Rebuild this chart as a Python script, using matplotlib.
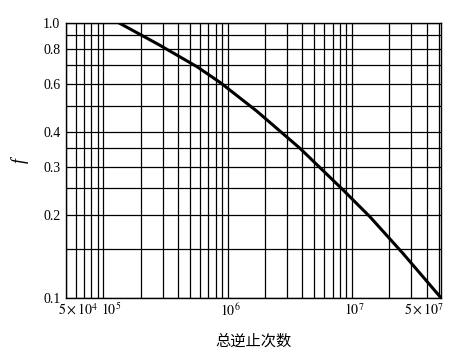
import numpy as np
import matplotlib
matplotlib.use('Agg')
import matplotlib.pyplot as plt
import matplotlib.transforms as mtransforms
from matplotlib.ticker import FixedLocator, NullFormatter

plt.rcParams['font.family'] = ['Liberation Serif', 'Noto Sans CJK SC']
plt.rcParams['mathtext.fontset'] = 'stix'

# Curve: total number of reversals vs f
cycles = [1.33e5, 2.79e5, 5.68e5, 8.74e5, 1.72e6, 3.84e6, 8.56e6,
          1.40e7, 2.57e7, 5.22e7]
f_vals = [1.0, 0.833, 0.692, 0.606, 0.477, 0.349, 0.246,
          0.197, 0.1453, 0.1]

# Axis ticks and grid
x_ticks = [5e4, 1e5, 1e6, 1e7, 5e7]
x_labels = [r'$5\times10^4$', r'$10^5$', r'$10^6$', r'$10^7$', r'$5\times10^7$']
x_grid = [m * 10.0 ** e for e in range(4, 8) for m in range(1, 10)]
y_ticks = [0.1, 0.2, 0.3, 0.4, 0.6, 0.8, 1.0]
y_labels = ['0.1', '0.2', '0.3', '0.4', '0.6', '0.8', '1.0']
y_grid = [0.15, 0.25, 0.35, 0.5, 0.7, 0.9]

fig = plt.figure(figsize=(4.64, 3.61), dpi=100)
ax = fig.add_axes([0.142, 0.175, 0.808, 0.762])

ax.plot(cycles, f_vals, color='black', lw=2.2, zorder=3,
        solid_joinstyle='round')

ax.set_xscale('log')
ax.set_yscale('log')
ax.set_xlim(5e4, 5.2e7)
ax.set_ylim(0.1, 1.0)

ax.xaxis.set_major_locator(FixedLocator(x_ticks))
ax.set_xticklabels(x_labels)
ax.xaxis.set_minor_locator(FixedLocator(x_grid))
ax.xaxis.set_minor_formatter(NullFormatter())
ax.yaxis.set_major_locator(FixedLocator(y_ticks))
ax.set_yticklabels(y_labels)
ax.yaxis.set_minor_locator(FixedLocator(y_grid))
ax.yaxis.set_minor_formatter(NullFormatter())

ax.grid(True, which='both', color='black', lw=0.9)
ax.tick_params(which='both', length=0, labelsize=10)
ax.tick_params(axis='x', pad=3)
ax.tick_params(axis='y', pad=4)
for s in ax.spines.values():
    s.set_color('black')
    s.set_linewidth(1.0)

# the printed labels sit a little off their grid lines at both ends
shifts = [12, 8, 3, 2, -15]
for lab, dx in zip(ax.get_xticklabels(), shifts):
    lab.set_transform(lab.get_transform() +
                      mtransforms.ScaledTranslation(dx / 100, 0, fig.dpi_scale_trans))

ax.set_xlabel('总逆止次数', fontsize=11, labelpad=10, family=['Noto Sans CJK SC'])
ax.set_ylabel('f', fontsize=13, style='italic', labelpad=10, rotation=90)

plt.savefig('out.png', dpi=100)
